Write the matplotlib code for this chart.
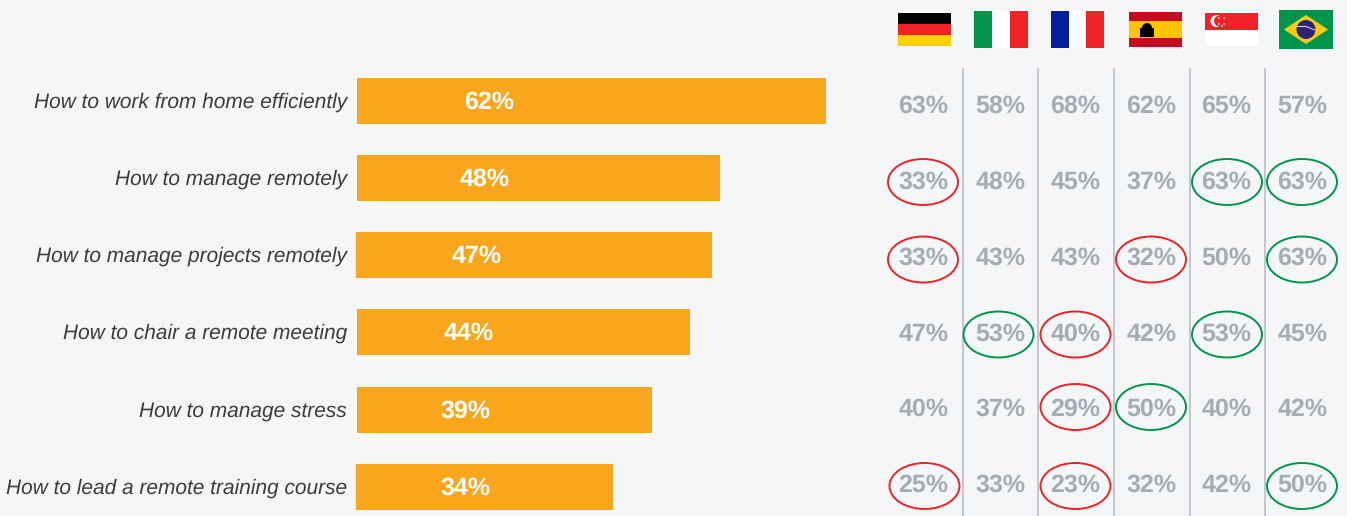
import numpy as np
import matplotlib
matplotlib.use("Agg")
import matplotlib.pyplot as plt
from matplotlib.patches import Rectangle, Ellipse, Polygon, Circle

topics = ['How to work from home efficiently', 'How to manage remotely',
          'How to manage projects remotely', 'How to chair a remote meeting',
          'How to manage stress', 'How to lead a remote training course']
overall = [62, 48, 47, 44, 39, 34]
countries = ['DE', 'IT', 'FR', 'ES', 'SG', 'BR']
country_vals = [[63, 58, 68, 62, 65, 57],
                [33, 48, 45, 37, 63, 63],
                [33, 43, 43, 32, 50, 63],
                [47, 53, 40, 42, 53, 45],
                [40, 37, 29, 50, 40, 42],
                [25, 33, 23, 32, 42, 50]]
# (row, col) of the circled values
red_marks = [(1, 0), (2, 0), (2, 3), (3, 2), (4, 2), (5, 0), (5, 2)]
green_marks = [(1, 4), (1, 5), (2, 5), (3, 1), (3, 4), (4, 3), (5, 5)]

W, H = 1347, 516
BG = '#f5f6f8'
ORANGE = '#f9a61c'
GREY = '#a5acb3'
RED = '#ee2227'
GREEN = '#00954a'

plt.rcParams['font.family'] = ['Liberation Sans', 'DejaVu Sans']
plt.rcParams['text.hinting'] = 'no_hinting'
plt.rcParams['text.hinting_factor'] = 8

fig = plt.figure(figsize=(W / 100, H / 100), dpi=100, facecolor=BG)
# whole figure axes in pixel units, y going down
ax = fig.add_axes([0, 0, 1, 1])
ax.set_xlim(0, W)
ax.set_ylim(H, 0)
ax.axis('off')

bar_y = [101, 178, 255, 332, 410, 487]
bar_left = [357, 357, 356, 357, 357, 356]
val_y = [105, 181, 257, 333, 408, 484]
ring_y = [105, 182, 259.5, 334.5, 407, 486]
col_x = [923, 1000, 1075, 1151, 1226, 1302]
ring_x = [923, 998.5, 1075.5, 1151, 1227, 1302]
bar_text_x = [489.5, 484.5, 476.5, 468.5, 465.5, 465.5]
px_per_pct = 7.57

ax.barh(bar_y, np.array(overall) * px_per_pct, left=bar_left, height=46, color=ORANGE, linewidth=0)

for i, topic in enumerate(topics):
    ax.text(347, bar_y[i] + 1, topic, ha='right', va='center', fontsize=15.0,
            style='italic', color='#3c3c3c')
    ax.text(bar_text_x[i], bar_y[i] + 1, f'{overall[i]}%', ha='center', va='center',
            fontsize=18, fontweight='bold', color='white')
    for j, v in enumerate(country_vals[i]):
        ax.text(col_x[j] + 0.5, val_y[i] + 1, f'{v}%', ha='center', va='center',
                fontsize=18, fontweight='bold', color=GREY)

# column separators
for x in [962.5, 1038, 1114, 1190, 1265]:
    ax.plot([x, x], [68, H], color='#b9bec6', lw=1.2, solid_capstyle='butt')

for marks, c in [(red_marks, RED), (green_marks, GREEN)]:
    for r, k in marks:
        # bottom left ring sits a little to the right of the others
        dx = 1.5 if (r, k) == (5, 0) else 0
        ax.add_patch(Ellipse((ring_x[k] + dx, ring_y[r]), 70, 46, fill=False, ec=c, lw=1.4, zorder=4))


def stripes(x0, y0, w, h, colors, heights=None, vertical=False):
    n = len(colors)
    fr = heights if heights is not None else [1 / n] * n
    pos = 0
    for c, f in zip(colors, fr):
        if vertical:
            ax.add_patch(Rectangle((x0 + pos * w, y0), f * w, h, fc=c, lw=0))
        else:
            ax.add_patch(Rectangle((x0, y0 + pos * h), w, f * h, fc=c, lw=0))
        pos += f


# flags
stripes(898, 13, 53, 33, ['#000000', '#ee2227', '#ffcf00'])
stripes(974, 11, 54, 37, [GREEN, 'white', RED], vertical=True)
stripes(1051, 11, 53, 37, ['#00209f', 'white', RED], vertical=True)

stripes(1129, 12, 53, 35, ['#c60b1e', '#ffc400', '#c60b1e'], heights=[0.25, 0.5, 0.25])
ax.add_patch(Rectangle((1140, 28), 14, 9, fc='black', lw=0))
ax.add_patch(Circle((1147, 28), 5, fc='black', lw=0))

stripes(1205, 13, 53, 33, [RED, 'white'])
ax.add_patch(Circle((1216.5, 21), 6, fc='white', lw=0))
ax.add_patch(Circle((1219.5, 21), 5.5, fc=RED, lw=0))
for sx, sy in [(1219, 18), (1224, 18), (1219, 24), (1224, 24), (1222, 26)]:
    ax.add_patch(Circle((sx, sy), 0.8, fc='white', lw=0))

ax.add_patch(Rectangle((1279, 10), 54, 39, fc=GREEN, lw=0))
ax.add_patch(Polygon([(1284, 29.5), (1306, 15), (1328, 29.5), (1306, 44)], fc='#fcc917', lw=0))
ax.add_patch(Circle((1306, 29.5), 9.5, fc='#2b2472', lw=0))
ax.plot([1297, 1306, 1315], [26.5, 26.5, 30], color='#c9c9dd', lw=0.8)

fig.savefig('out.png', dpi=100, facecolor=BG)
